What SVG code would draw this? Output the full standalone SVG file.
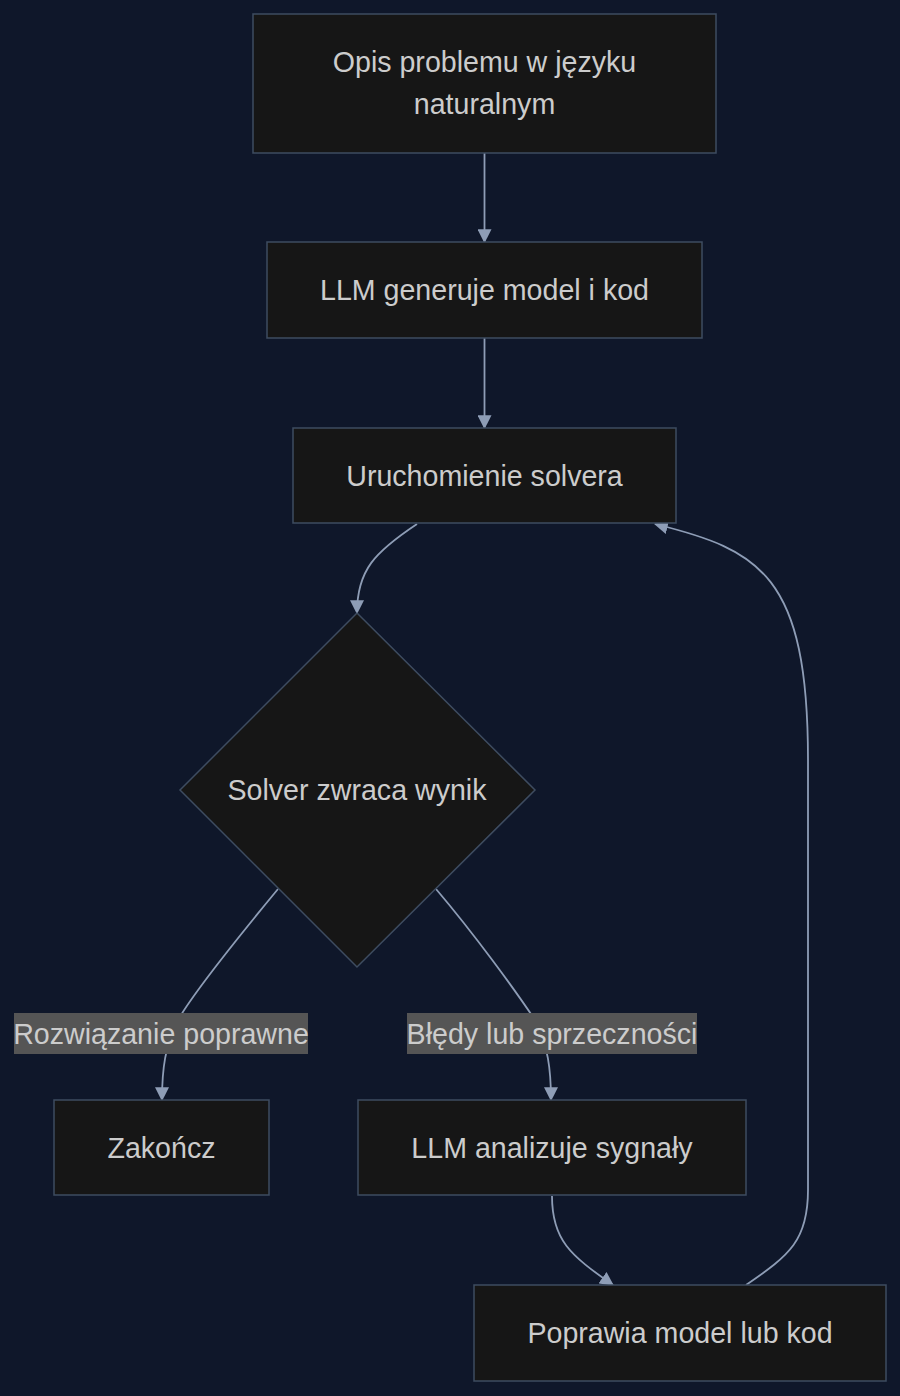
<svg xmlns="http://www.w3.org/2000/svg" width="900" height="1396" viewBox="0 0 900 1396">
<style>
.bg{fill:#0f172a}
.node{fill:#161616;stroke:#3e4c60;stroke-width:1.5}
.t{font-family:"Liberation Sans",Arial,sans-serif;font-size:28.6px;fill:#cccccc;text-anchor:middle;dominant-baseline:central}
.edge{fill:none;stroke:#8e9db6;stroke-width:1.8}
.lbl{fill:#555555}
</style>
<defs>
<marker id="arr" viewBox="0 0 12 12" refX="11" refY="6" markerWidth="14" markerHeight="14" markerUnits="userSpaceOnUse" orient="auto">
<path d="M0,0 L12,6 L0,12 z" fill="#8e9db6"/>
</marker>
</defs>
<rect class="bg" x="0" y="0" width="900" height="1396"/>
<g id="connectors">
<path class="edge" d="M484.5,153 L484.5,242" marker-end="url(#arr)"/>
<path class="edge" d="M484.5,338 L484.5,428" marker-end="url(#arr)"/>
<path class="edge" d="M417,524 C375,552 357,570 357,613" marker-end="url(#arr)"/>
<path class="edge" d="M278,889 C240,935 195,990 178,1020 C165,1045 162,1070 162,1100" marker-end="url(#arr)"/>
<path class="edge" d="M436,889 C475,935 515,990 535,1020 C548,1045 551,1070 551,1100" marker-end="url(#arr)"/>
<path class="edge" d="M552,1196 C552,1240 570,1255 613,1285" marker-end="url(#arr)"/>
<path class="edge" d="M746,1285 C790,1255 808,1240 808,1190 L808,760 C808,575 760,550 655,524" marker-end="url(#arr)"/>
<g id="label1"><rect class="lbl" x="14" y="1013" width="294" height="41"/><text class="t" x="161" y="1033.5">Rozwiązanie poprawne</text></g>
<g id="label2"><rect class="lbl" x="407" y="1013" width="290" height="41"/><text class="t" x="552" y="1033.5">Błędy lub sprzeczności</text></g>
</g>
<g id="A"><rect class="node" x="253" y="14" width="463" height="139"/><text class="t" x="484.5" y="62">Opis problemu w języku</text><text class="t" x="484.5" y="104">naturalnym</text></g>
<g id="B"><rect class="node" x="267" y="242" width="435" height="96"/><text class="t" x="484.5" y="290">LLM generuje model i kod</text></g>
<g id="C"><rect class="node" x="293" y="428" width="383" height="95"/><text class="t" x="484.5" y="476">Uruchomienie solvera</text></g>
<g id="D"><polygon class="node" points="357,613 535,790 357,967 180,790"/><text class="t" x="357" y="790">Solver zwraca wynik</text></g>
<g id="E"><rect class="node" x="54" y="1100" width="215" height="95"/><text class="t" x="161.5" y="1148">Zakończ</text></g>
<g id="F"><rect class="node" x="358" y="1100" width="388" height="95"/><text class="t" x="552" y="1148">LLM analizuje sygnały</text></g>
<g id="G"><rect class="node" x="474" y="1285" width="412" height="96"/><text class="t" x="680" y="1333">Poprawia model lub kod</text></g>
</svg>
